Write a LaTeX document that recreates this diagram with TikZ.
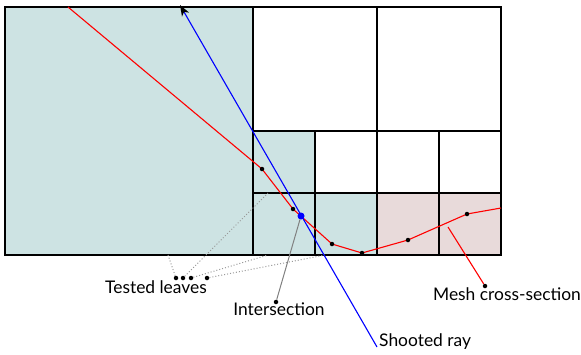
\documentclass[tikz,border=0pt]{standalone}
\usepackage{fontspec}
\setmainfont{Lato}
\usetikzlibrary{arrows.meta}
\definecolor{leafteal}{HTML}{CDE3E3}
\definecolor{leafpink}{HTML}{E8DADA}
\tikzset{
  grid/.style={draw=black, line width=1.4pt},
  tested/.style={fill=leafteal},
  meshleaf/.style={fill=leafpink},
  mesh/.style={draw=red, line width=1.1pt},
  ray/.style={draw=blue, line width=1.1pt},
  vtx/.style={circle, fill=black, inner sep=0pt, minimum size=4.5pt},
  hit/.style={circle, fill=blue, inner sep=0pt, minimum size=7pt},
  pointer/.style={draw=gray, line width=1pt},
  dotline/.style={draw=gray!80, line width=1pt, dotted},
  lbl/.style={font=\fontsize{17.4}{20}\selectfont, inner sep=0pt}
}
\begin{document}
\begin{tikzpicture}[x=1pt, y=-1pt]
\useasboundingbox (0,0) rectangle (581,354);
% fills
\fill[tested] (5,7) rectangle (253,255);
\fill[tested] (253,131) rectangle (315,255);
\fill[tested] (315,193) rectangle (377,255);
\fill[meshleaf] (377,193) rectangle (501,255);
% grid
\draw[grid] (5,7) rectangle (501,255);
\draw[grid] (253,7) -- (253,255);
\draw[grid] (377,7) -- (377,255);
\draw[grid] (253,131) -- (501,131);
\draw[grid] (253,193) -- (501,193);
\draw[grid] (315,131) -- (315,255);
\draw[grid] (439,131) -- (439,255);
% labels
\node[lbl] (tl) at (156,287) {Tested leaves};
\node[lbl] (it) at (279,309) {Intersection};
\node[lbl] (mc) at (507,294) {Mesh cross-section};
\node[lbl, anchor=west] (sr) at (379,342) {Shooted ray};
% tested leaves pointers
\node[vtx] (t1) at (176,278) {};
\node[vtx] (t2) at (183,278) {};
\node[vtx] (t3) at (191,278) {};
\node[vtx] (t4) at (207,278) {};
\coordinate (l1) at (168,255);
\coordinate (l2) at (268,193);
\coordinate (l3) at (268,255);
\coordinate (l4) at (325,255);
\draw[dotline] (t1) -- (l1);
\draw[dotline] (t2) -- (l2);
\draw[dotline] (t3) -- (l3);
\draw[dotline] (t4) -- (l4);
% mesh
\coordinate (m0) at (68,7);
\coordinate (m1) at (262,169);
\coordinate (m2) at (293,209);
\coordinate (m3) at (332,244);
\coordinate (m4) at (362,253);
\coordinate (m5) at (408,240);
\coordinate (m6) at (467,214);
\coordinate (m7) at (501,208);
\draw[mesh] (m0) -- (m1) -- (m2) -- (m3) -- (m4) -- (m5) -- (m6) -- (m7);
\coordinate (mp) at (448,227);
\node[vtx] (md) at (485,286) {};
\draw[mesh] (mp) -- (md);
% ray
\coordinate (rs) at (377,347);
\coordinate (re) at (180,5);
\draw[ray, -{Stealth[color=black, length=11pt, width=8pt, inset=3pt]}] (rs) -- (re);
% intersection
\node[hit] (hp) at (301,216) {};
\node[vtx] (id) at (276,302) {};
\draw[pointer] (hp) -- (id);
% vertices
\foreach \p in {m1,m2,m3,m4,m5,m6} \node[vtx] at (\p) {};
\end{tikzpicture}
\end{document}
